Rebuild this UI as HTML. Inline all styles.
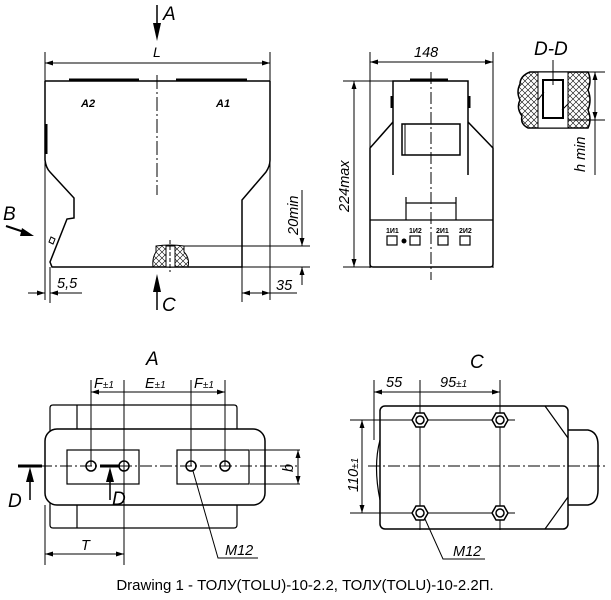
<!DOCTYPE html>
<html><head><meta charset="utf-8"><style>
html,body{margin:0;padding:0;background:#fff;}
svg{display:block;}
text{font-family:"Liberation Sans",sans-serif;font-style:italic;fill:#000;}
text.n{font-style:normal;}
</style></head><body>
<svg width="611" height="600" viewBox="0 0 611 600" xmlns="http://www.w3.org/2000/svg">
<defs>
<marker id="ar" markerWidth="8" markerHeight="6" refX="8" refY="3" orient="auto-start-reverse" markerUnits="userSpaceOnUse"><path d="M0,0.5 L8,3 L0,5.5z" fill="#000"/></marker>
<pattern id="hatch" width="6" height="6" patternUnits="userSpaceOnUse"><path d="M0,0L6,6M6,0L0,6" stroke="#000" stroke-width="0.6"/></pattern>
</defs>
<g fill="none" stroke="#000" stroke-width="1">
<!-- FRONT VIEW -->
<path d="M45,81 L270,81" stroke-width="1.5"/>
<path d="M69,80 L139,80 M176,80 L247,80" stroke-width="3"/>
<path d="M45,81 L45,160 Q46,168 50,172 L74,198 L74,218 L67,219 L50,262 L52,267 L242,267 L242,200 L266,172 Q270,166 270,160 L270,81" stroke-width="1.5"/>
<path d="M46,124 L46,154" stroke-width="3"/>
<path d="M51,237 L55,239 L53,244 L49,242z" stroke-width="1"/>
<path d="M45,52 L45,300 M50,267 L50,303 M270,52 L270,300 M242,267 L242,302"/>
<path d="M45,63 L270,63" marker-start="url(#ar)" marker-end="url(#ar)"/>
<path d="M157,75 L157,195" stroke-dasharray="14,3,2,3"/>
<path d="M157,5 L157,25" stroke-width="1.5"/>
<path d="M157,290 L157,310" stroke-width="1.5"/>
<path d="M153,267 Q152,258 156,252 L156,246 Q170,244 184,246 L184,252 Q190,258 188,267" fill="url(#hatch)"/>
<rect x="166" y="246" width="9" height="21" fill="#fff"/>
<path d="M170,240 L170,272" stroke-dasharray="4,2"/>
<path d="M184,246 L310,246 M242,267 L310,267"/>
<path d="M302,190 L302,246" marker-end="url(#ar)"/>
<path d="M302,285 L302,267" marker-end="url(#ar)"/>
<path d="M28,293 L45,293" marker-end="url(#ar)"/>
<path d="M82,293 L50,293" marker-end="url(#ar)"/>
<path d="M242,293 L270,293" marker-start="url(#ar)" marker-end="url(#ar)"/>
<path d="M270,293 L297,293"/>
<path d="M6,226 L24,232" stroke-width="2"/>

<!-- SIDE VIEW -->
<path d="M370,52 L370,268 M493,52 L493,268"/>
<path d="M370,62 L493,62" marker-start="url(#ar)" marker-end="url(#ar)"/>
<path d="M343,81 L393,81 M343,267 L373,267"/>
<path d="M354,81 L354,267" marker-start="url(#ar)" marker-end="url(#ar)"/>
<path d="M393,175 L393,81 L468,81 L468,175" stroke-width="1.5"/>
<path d="M410,80 L448,80" stroke-width="3"/>
<path d="M392,96 L392,108 M469,96 L469,108" stroke-width="3"/>
<path d="M393,122 L370,148 L370,264 Q370,267 373,267 L490,267 Q493,267 493,264 L493,148 L468,122" stroke-width="1.5"/>
<rect x="402" y="124" width="58" height="31" stroke-width="1.5"/>
<path d="M405,124 L405,155"/>
<path d="M370,220 L493,220" stroke-width="1.2"/>
<path d="M406,220 L406,197 M456,220 L456,197 M406,203 L456,203" stroke-width="1.2"/>
<path d="M431,72 L431,280" stroke-dasharray="12,3,2,3"/>
<g stroke-width="1.2"><rect x="387" y="236" width="10" height="9"/><rect x="410" y="236" width="10" height="9"/><rect x="438" y="236" width="10" height="9"/><rect x="460" y="236" width="10" height="9"/></g>
<circle cx="404" cy="241" r="2" fill="#000"/>

<!-- D-D -->
<path d="M530,72 L588,72 Q592,80 588,90 Q592,100 588,110 Q592,120 588,128 L528,128 Q520,124 522,116 Q516,108 520,100 Q516,92 520,84 Q520,76 530,72z" fill="url(#hatch)" stroke-width="1.5"/>
<rect x="538" y="72" width="30" height="56" fill="#fff"/>
<path d="M538,72 L538,128 M568,72 L568,128 M538,100 L544,92 M562,110 L568,104"/>
<rect x="543" y="80" width="20" height="38" stroke-width="2"/>
<path d="M553,60 L553,85"/>
<path d="M588,72 L605,72 M568,120 L605,120 M595,120 L595,175"/>
<path d="M595,72 L595,120" marker-start="url(#ar)" marker-end="url(#ar)"/>

<!-- VIEW A -->
<path d="M50,408 Q50,405 53,405 L234,405 Q237,405 237,408 L237,525 Q237,528 234,528 L53,528 Q50,528 50,525z" stroke-width="1.2"/>
<path d="M77,429 L77,405 M77,505 L77,528" stroke-width="1.2"/>
<rect x="45" y="429" width="220" height="76" rx="12" fill="#fff" stroke-width="1.5"/>
<rect x="67" y="450" width="72" height="34" stroke-width="1.2"/>
<rect x="177" y="450" width="72" height="34" stroke-width="1.2"/>
<path d="M20,466 L300,466" stroke-dasharray="12,3,2,3"/>
<g stroke-width="1.5"><circle cx="91" cy="466" r="5"/><circle cx="124" cy="466" r="5"/><circle cx="191" cy="466" r="5"/><circle cx="225" cy="466" r="5"/></g>
<path d="M91,380 L91,466 M124,380 L124,565 M191,380 L191,466 M225,380 L225,466"/>
<path d="M91,392 L124,392 M124,392 L191,392 M191,392 L225,392" marker-start="url(#ar)" marker-end="url(#ar)"/>
<path d="M18,466 L42,466 M100,466 L120,466" stroke-width="3"/>
<path d="M30,500 L30,480 M110,500 L110,480" stroke-width="1.5"/>
<path d="M45,505 L45,565"/>
<path d="M45,554 L124,554" marker-start="url(#ar)" marker-end="url(#ar)"/>
<path d="M193,471 L218,558 L258,558"/>
<path d="M250,450 L300,450 M250,484 L300,484"/>
<path d="M298,450 L298,484" marker-start="url(#ar)" marker-end="url(#ar)"/>

<!-- VIEW C -->
<rect x="380" y="406" width="188" height="123" rx="5" stroke-width="1.5"/>
<path d="M545,406 L568,438 M568,497 L545,529" stroke-width="1.2"/>
<path d="M568,430 L588,430 Q598,432 598,445 L598,490 Q598,503 588,505 L568,505" stroke-width="1.5"/>
<path d="M380,440 Q373,466 380,500" stroke-width="1.2"/>
<path d="M368,466 L608,466" stroke-dasharray="12,3,2,3"/>
<path d="M420,380 L420,530 M500,380 L500,530 M374,380 L374,440"/>
<path d="M350,420 L515,420 M350,513 L515,513"/>
<path d="M374,392 L420,392 M420,392 L500,392" marker-start="url(#ar)" marker-end="url(#ar)"/>
<path d="M362,420 L362,513" marker-start="url(#ar)" marker-end="url(#ar)"/>
<g stroke-width="1.5" fill="#fff">
<path d="M412,420 L416,413 L424,413 L428,420 L424,427 L416,427z"/><circle cx="420" cy="420" r="4"/>
<path d="M492,420 L496,413 L504,413 L508,420 L504,427 L496,427z"/><circle cx="500" cy="420" r="4"/>
<path d="M412,513 L416,506 L424,506 L428,513 L424,520 L416,520z"/><circle cx="420" cy="513" r="4"/>
<path d="M492,513 L496,506 L504,506 L508,513 L504,520 L496,520z"/><circle cx="500" cy="513" r="4"/>
</g>
<path d="M425,519 L443,559 L485,559"/>
</g>
<g fill="#000">
<path d="M153,23 L161,23 L157,41z"/>
<path d="M153,292 L161,292 L157,274z"/>
<path d="M26,482 L34,482 L30,467z"/>
<path d="M106,482 L114,482 L110,467z"/>
<path d="M22,228 L34,236 L20,236z"/>
</g>
<g font-size="19">
<text x="163" y="20">A</text>
<text x="153" y="57" font-size="14">L</text>
<text x="3" y="220">B</text>
<text x="162" y="311">C</text>
<text x="146" y="365">A</text>
<text x="470" y="368">C</text>
<text x="534" y="55">D-D</text>
<text x="8" y="507">D</text>
<text x="112" y="505">D</text>
</g>
<g font-size="14.5">
<text x="414" y="57">148</text>
<text x="57" y="288">5,5</text>
<text x="276" y="290">35</text>
<text x="81" y="550">T</text>
<text x="225" y="555">M12</text>
<text x="453" y="556">M12</text>
<text x="386" y="387">55</text>
<text x="440" y="387">95<tspan font-size="10">±1</tspan></text>
<text x="94" y="388">F<tspan font-size="10">±1</tspan></text>
<text x="145" y="388">E<tspan font-size="10">±1</tspan></text>
<text x="194" y="388">F<tspan font-size="10">±1</tspan></text>
<text transform="translate(298,235) rotate(-90)">20min</text>
<text transform="translate(349,212) rotate(-90)">224max</text>
<text transform="translate(585,172) rotate(-90)">h min</text>
<text transform="translate(358,492) rotate(-90)">110<tspan font-size="10">±1</tspan></text>
<text transform="translate(293,472) rotate(-90)">b</text>
</g>
<g font-size="11" font-weight="bold">
<text x="81" y="107">A2</text><text x="216" y="107">A1</text>
</g>
<g font-size="7" font-weight="bold">
<text class="n" x="386" y="233">1И1</text><text class="n" x="409" y="233">1И2</text><text class="n" x="436" y="233">2И1</text><text class="n" x="459" y="233">2И2</text>
</g>
<text class="n" x="305" y="590" font-size="15" text-anchor="middle">Drawing 1 - ТОЛУ(TOLU)-10-2.2, ТОЛУ(TOLU)-10-2.2П.</text>
</svg>
</body></html>
